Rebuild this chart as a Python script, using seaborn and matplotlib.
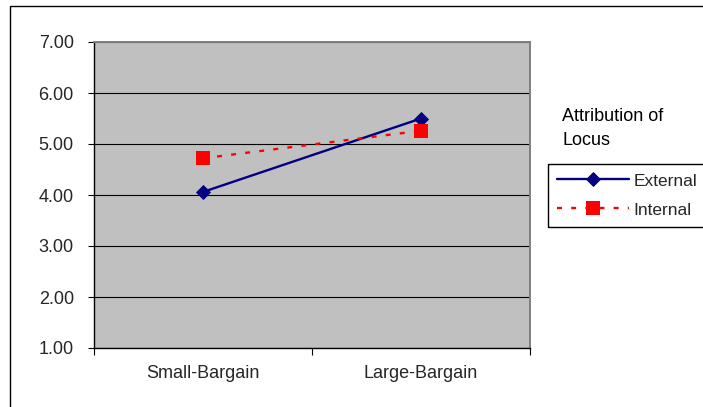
import matplotlib
matplotlib.use("Agg")
import matplotlib.pyplot as plt
from matplotlib.patches import Rectangle
from matplotlib.lines import Line2D
import seaborn as sns
import pandas as pd

# Chart data
conditions = ["Small-Bargain", "Large-Bargain"]
external = [4.06, 5.50]
internal = [4.72, 5.26]
series_names = ["External", "Internal"]
y_ticks = [1, 2, 3, 4, 5, 6, 7]
legend_title_lines = ["Attribution of", "Locus"]

sns.set_theme(style="white")
plt.rcParams["font.family"] = ["Liberation Sans", "DejaVu Sans"]
FS = 13.0
LEG_FS = 12.5

W, H = 703, 407
fig = plt.figure(figsize=(W / 100, H / 100), dpi=100)
fig.patch.set_facecolor("white")
ax = fig.add_axes([94 / W, 1 - 348 / H, (530 - 94) / W, (348 - 42) / H])
ax.set_facecolor("#C0C0C0")

df = pd.DataFrame({
    "condition": conditions * 2,
    "score": external + internal,
    "locus": [series_names[0]] * 2 + [series_names[1]] * 2,
})

styles = {
    "External": dict(color="#000080", marker="D", markersize=7.0,
                     markeredgewidth=0.6, markeredgecolor="#000080",
                     linewidth=1.7, linestyle="-"),
    "Internal": dict(color="#FF0000", marker="s", markersize=9.5,
                     markeredgewidth=0, linewidth=1.7,
                     linestyle=(0, (2.1, 3.9))),
}

for name in series_names:
    sub = df[df["locus"] == name]
    sns.lineplot(data=sub, x="condition", y="score", ax=ax, legend=False,
                 sort=False, **styles[name])

ax.set_xlim(-0.5, 1.5)
ax.set_ylim(1, 7)

# category boundaries carry the tick marks, labels sit at category centres
ax.set_xticks([-0.5, 0.5, 1.5])
ax.set_xticklabels([])
ax.set_xticks([0, 1], minor=True)
ax.set_xticklabels(conditions, minor=True, fontsize=FS)
ax.tick_params(axis="x", which="major", bottom=True, length=5, width=0.8,
               color="black", direction="out")
ax.tick_params(axis="x", which="minor", bottom=True, length=0, pad=12)

ax.set_yticks(y_ticks)
ax.set_yticklabels([f"{v:.2f}" for v in y_ticks], fontsize=FS)
ax.tick_params(axis="y", left=True, length=4.5, width=0.8, color="black",
               direction="out", pad=10)

ax.set_xlabel("")
ax.set_ylabel("")
ax.yaxis.grid(True, color="black", linewidth=0.8)
ax.xaxis.grid(False)
ax.set_axisbelow(True)

for side in ("left", "bottom"):
    ax.spines[side].set_color("black")
    ax.spines[side].set_linewidth(1.0)
for side in ("top", "right"):
    ax.spines[side].set_color("#808080")
    ax.spines[side].set_linewidth(1.4)

# legend title drawn as free text above the boxed legend
fig.text(562 / W, 1 - 121 / H, legend_title_lines[0], fontsize=FS,
         va="baseline", ha="left", color="black")
fig.text(562 / W, 1 - 145 / H, legend_title_lines[1], fontsize=FS,
         va="baseline", ha="left", color="black")

handles = [Line2D([], [], **styles[n]) for n in series_names]
leg = fig.legend(handles, series_names, loc="upper left",
                 bbox_to_anchor=(548 / W, 1 - 225 / H, (706 - 548) / W, 61 / H),
                 mode="expand", borderaxespad=0, fontsize=LEG_FS,
                 handlelength=4.15, handletextpad=0.22, borderpad=0.54,
                 labelspacing=0.8, fancybox=False, framealpha=1,
                 edgecolor="black", frameon=True, numpoints=1)
leg.get_frame().set_linewidth(1.0)

# outer chart frame
fig.patches.append(Rectangle((9.5 / W, -0.1), 1.2, 1.1 - 6.5 / H,
                             transform=fig.transFigure, fill=False,
                             edgecolor="black", linewidth=1.0))

fig.savefig("out.png", dpi=100)
